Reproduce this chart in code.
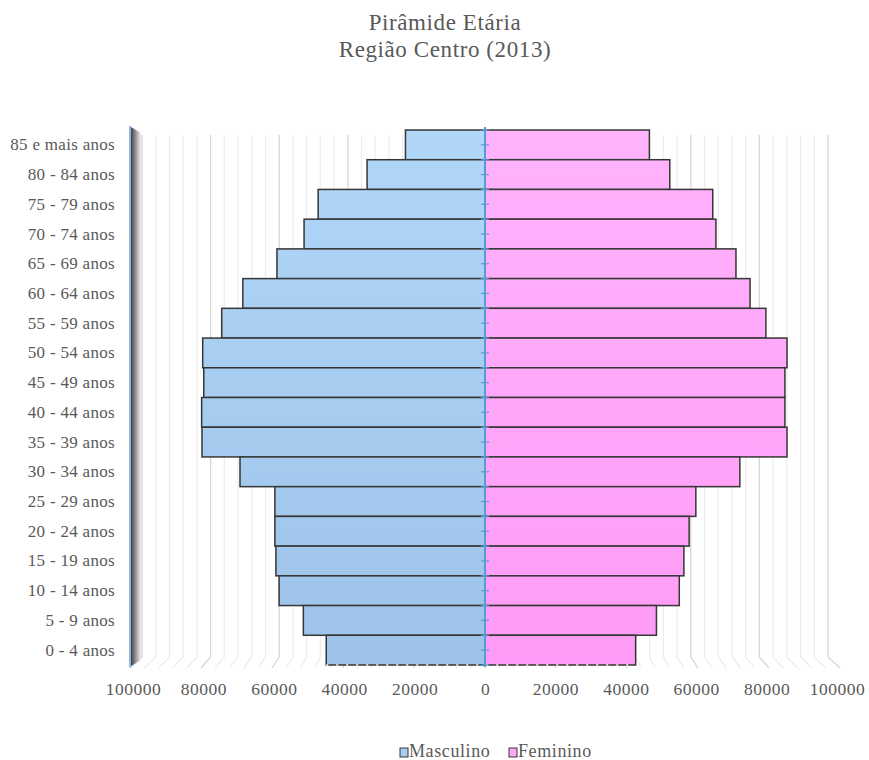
<!DOCTYPE html>
<html>
<head>
<meta charset="utf-8">
<script src="https://cdn.jsdelivr.net/npm/d3@7"></script>
<style>
  body { margin: 0; background: white; }
  text { font-family: "Liberation Serif", "Times New Roman", serif; fill: #595959; }
</style>
</head>
<body>
<div id="chart"></div>
<script>
// age groups, top to bottom
let age_groups = [
  "85 e mais anos", "80 - 84 anos", "75 - 79 anos", "70 - 74 anos",
  "65 - 69 anos", "60 - 64 anos", "55 - 59 anos", "50 - 54 anos",
  "45 - 49 anos", "40 - 44 anos", "35 - 39 anos", "30 - 34 anos",
  "25 - 29 anos", "20 - 24 anos", "15 - 19 anos", "10 - 14 anos",
  "5 - 9 anos", "0 - 4 anos",
];
let masculino = [
  22600, 33500, 47400, 51400, 59100, 68800, 74800, 80200,
  79900, 80500, 80400, 69600, 59700, 59700, 59400, 58500,
  51600, 45100,
];
let feminino = [
  46700, 52500, 64700, 65600, 71300, 75300, 79800, 85800,
  85200, 85200, 85800, 72400, 59900, 58000, 56500, 55200,
  48700, 42800,
];
let tick_values = [-100000, -80000, -60000, -40000, -20000, 0, 20000, 40000, 60000, 80000, 100000];
let series_names = ["Masculino", "Feminino"];

let opts = {
  width: 869,
  height: 760,
  center: 485,
  front_half: 352,
  back_half: 343,
  floor_half: 355,
  plot_top: 130,
  plot_bottom: 665,
  grid_top: 135,
  grid_bend: 657,
  grid_end: 668,
};

let svg = d3
  .select("#chart")
  .append("svg")
  .attr("width", opts.width)
  .attr("height", opts.height);

let defs = svg.append("defs");

function vGradient(id, top, bottom) {
  let g = defs
    .append("linearGradient")
    .attr("id", id)
    .attr("gradientUnits", "userSpaceOnUse")
    .attr("x1", 0).attr("x2", 0)
    .attr("y1", opts.plot_top).attr("y2", opts.plot_bottom);
  g.append("stop").attr("offset", "0%").attr("stop-color", top);
  g.append("stop").attr("offset", "100%").attr("stop-color", bottom);
}
vGradient("grad-m", "#b0d6f8", "#9dc3e9");
vGradient("grad-f", "#ffb3fc", "#ff9bf6");

let wall = defs
  .append("linearGradient")
  .attr("id", "grad-wall")
  .attr("x1", 0).attr("x2", 1).attr("y1", 0).attr("y2", 0);
wall.append("stop").attr("offset", "0%").attr("stop-color", "#404040");
wall.append("stop").attr("offset", "50%").attr("stop-color", "#9a9a9a");
wall.append("stop").attr("offset", "100%").attr("stop-color", "#f2f2f2");

// scales
let x = d3
  .scaleLinear()
  .domain([-100000, 100000])
  .range([opts.center - opts.front_half, opts.center + opts.front_half]);
let x_back = d3
  .scaleLinear()
  .domain([-100000, 100000])
  .range([opts.center - opts.back_half, opts.center + opts.back_half]);
let x_floor = d3
  .scaleLinear()
  .domain([-100000, 100000])
  .range([opts.center - opts.floor_half, opts.center + opts.floor_half]);
let y = d3
  .scaleBand()
  .domain(age_groups)
  .range([opts.plot_top, opts.plot_bottom])
  .padding(0);

// title
svg.append("text")
  .attr("x", 445).attr("y", 30)
  .attr("text-anchor", "middle")
  .attr("font-size", 23)
  .attr("letter-spacing", 0.6)
  .text("Pirâmide Etária");
svg.append("text")
  .attr("x", 445).attr("y", 57)
  .attr("text-anchor", "middle")
  .attr("font-size", 23)
  .attr("letter-spacing", 0.6)
  .text("Região Centro (2013)");

// back wall gridlines, every 4000, with floor part bending to the front
let grid_vals = d3.range(-100000, 100001, 4000);
svg.append("g")
  .selectAll("path")
  .data(grid_vals)
  .join("path")
  .attr("fill", "none")
  .attr("stroke", (d) => (d % 20000 === 0 ? "#d6d6d6" : "#ededed"))
  .attr("stroke-width", 1.3)
  .attr("d", (d) =>
    `M${x_back(d)},${opts.grid_top}L${x_back(d)},${opts.grid_bend}L${x_floor(d)},${opts.grid_end}`
  );

// left side wall
svg.append("path")
  .attr("fill", "url(#grad-wall)")
  .attr("d", `M131,127L141,133L141,660L131,666Z`);
svg.append("line")
  .attr("x1", 130).attr("x2", 130)
  .attr("y1", 126).attr("y2", 667)
  .attr("stroke", "#6fa3dc")
  .attr("stroke-width", 1.6);

// bars
let rows = age_groups.map((a, i) => ({ age: a, m: masculino[i], f: feminino[i] }));

svg.append("g")
  .selectAll("rect")
  .data(rows)
  .join("rect")
  .attr("x", (d) => x(-d.m))
  .attr("y", (d) => y(d.age))
  .attr("width", (d) => x(0) - x(-d.m))
  .attr("height", y.bandwidth())
  .attr("fill", "url(#grad-m)")
  .attr("stroke", "#363636")
  .attr("stroke-width", 1.5);

svg.append("g")
  .selectAll("rect")
  .data(rows)
  .join("rect")
  .attr("x", x(0))
  .attr("y", (d) => y(d.age))
  .attr("width", (d) => x(d.f) - x(0))
  .attr("height", y.bandwidth())
  .attr("fill", "url(#grad-f)")
  .attr("stroke", "#363636")
  .attr("stroke-width", 1.5);

// dashed look on the bottom edge of the lowest bars
let last = rows[rows.length - 1];
svg.append("line")
  .attr("x1", x(-last.m)).attr("x2", x(last.f))
  .attr("y1", opts.plot_bottom).attr("y2", opts.plot_bottom)
  .attr("stroke", "white")
  .attr("stroke-width", 1.6)
  .attr("stroke-dasharray", "2,8");

// center vertical axis with ticks every half band
svg.append("line")
  .attr("x1", x(0)).attr("x2", x(0))
  .attr("y1", opts.plot_top - 3).attr("y2", opts.plot_bottom + 2)
  .attr("stroke", "#5b9bd5")
  .attr("stroke-width", 2);
let tick_ys = d3.range(0, age_groups.length * 2 + 1).map((k) => opts.plot_top + (k * y.bandwidth()) / 2);
svg.append("g")
  .selectAll("line")
  .data(tick_ys)
  .join("line")
  .attr("x1", x(0) - 4).attr("x2", x(0) + 4)
  .attr("y1", (d) => d).attr("y2", (d) => d)
  .attr("stroke", "#5b9bd5")
  .attr("stroke-width", 1.2);

// category labels
svg.append("g")
  .selectAll("text")
  .data(age_groups)
  .join("text")
  .attr("x", 115)
  .attr("y", (d) => y(d) + y.bandwidth() / 2 + 5.5)
  .attr("text-anchor", "end")
  .attr("font-size", 17)
  .attr("letter-spacing", 0.3)
  .text((d) => d);

// bottom value axis
let x_axis = d3
  .axisBottom(x)
  .tickValues(tick_values)
  .tickFormat((d) => Math.abs(d))
  .tickSize(0)
  .tickPadding(0);
let ax = svg.append("g")
  .attr("transform", `translate(0,683)`)
  .call(x_axis);
ax.select(".domain").remove();
ax.selectAll("text")
  .attr("dy", "0.71em")
  .attr("font-size", 17.5)
  .attr("letter-spacing", 0.5)
  .style("font-family", '"Liberation Serif", serif')
  .attr("fill", "#595959");

// legend
let legend_items = [
  { name: series_names[0], fill: "#a9cef2", x: 400 },
  { name: series_names[1], fill: "#ffa6f9", x: 509 },
];
let lg = svg.append("g")
  .selectAll("g")
  .data(legend_items)
  .join("g")
  .attr("transform", (d) => `translate(${d.x},748)`);
lg.append("rect")
  .attr("width", 8).attr("height", 9)
  .attr("fill", (d) => d.fill)
  .attr("stroke", "#363636")
  .attr("stroke-width", 1);
lg.append("text")
  .attr("x", 9).attr("y", 9)
  .attr("font-size", 18)
  .attr("letter-spacing", 0.6)
  .text((d) => d.name);
</script>
</body>
</html>
